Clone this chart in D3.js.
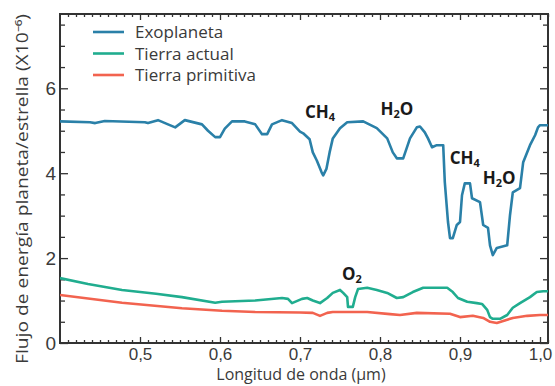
<!DOCTYPE html>
<html>
<head>
<meta charset="utf-8">
<script src="https://cdn.jsdelivr.net/npm/d3@7"></script>
<style>
  body { margin: 0; background: #fff; }
  svg { display: block; font-family: "Open Sans", sans-serif; }
</style>
</head>
<body>
<div id="chart"></div>
<script>
// wavelength (µm) / flux ratio pairs
const exoWave = [0.400, 0.4375, 0.444, 0.456, 0.506, 0.510, 0.5225, 0.535, 0.544, 0.556, 0.5775, 0.585, 0.594, 0.600, 0.606, 0.615, 0.631, 0.644, 0.6525, 0.659, 0.665, 0.6775, 0.690, 0.700,
  0.704, 0.712, 0.716, 0.721, 0.727, 0.729, 0.733, 0.737, 0.741, 0.750, 0.759, 0.779, 0.796, 0.809, 0.816, 0.821, 0.829, 0.8375, 0.846, 0.850, 0.856, 0.860, 0.865, 0.871, 0.879,
  0.881, 0.885, 0.8875, 0.891, 0.896, 0.900, 0.9025, 0.906, 0.9125, 0.915, 0.925, 0.929, 0.935, 0.9375, 0.941, 0.946, 0.959, 0.9625, 0.966, 0.975, 0.979, 0.9875, 0.994, 0.9975, 1.000, 1.010];
const exoFlux = [5.22, 5.20, 5.18, 5.23, 5.20, 5.18, 5.25, 5.15, 5.08, 5.25, 5.15, 5.00, 4.85, 4.85, 5.05, 5.22, 5.22, 5.15, 4.92, 4.92, 5.15, 5.25, 5.18, 4.98,
  4.94, 4.80, 4.49, 4.30, 4.02, 3.95, 4.10, 4.49, 4.82, 5.06, 5.20, 5.22, 5.06, 4.82, 4.49, 4.35, 4.35, 4.82, 5.08, 5.10, 4.96, 4.82, 4.61, 4.66, 4.66,
  3.79, 2.85, 2.47, 2.47, 2.78, 2.85, 3.48, 3.76, 3.76, 3.41, 3.32, 2.78, 2.71, 2.30, 2.07, 2.24, 2.30, 3.01, 3.55, 3.65, 4.26, 4.66, 4.90, 5.08, 5.13, 5.13];

const actualWave = [0.400, 0.435, 0.4775, 0.520, 0.5525, 0.594, 0.6025, 0.644, 0.6775, 0.685, 0.690, 0.7025, 0.709, 0.716, 0.725, 0.734, 0.741, 0.750, 0.754, 0.759, 0.760, 0.766, 0.769, 0.7725,
  0.784, 0.796, 0.809, 0.821, 0.829, 0.841, 0.854, 0.884, 0.891, 0.8975, 0.909, 0.921, 0.9275, 0.934, 0.9375, 0.941, 0.950, 0.959, 0.966, 0.975, 0.9875, 0.996, 1.004, 1.010];
const actualFlux = [1.53, 1.39, 1.25, 1.16, 1.08, 0.95, 0.97, 1.00, 1.06, 1.04, 0.94, 1.04, 1.06, 1.00, 0.94, 1.06, 1.18, 1.25, 1.18, 1.08, 0.85, 0.85, 1.08, 1.27,
  1.30, 1.25, 1.18, 1.06, 1.08, 1.20, 1.30, 1.30, 1.20, 1.06, 0.97, 0.94, 0.92, 0.78, 0.61, 0.57, 0.57, 0.66, 0.83, 0.94, 1.08, 1.20, 1.22, 1.22];

const primWave = [0.400, 0.4775, 0.5525, 0.6025, 0.644, 0.700, 0.716, 0.725, 0.734, 0.741, 0.784, 0.8125, 0.825, 0.846, 0.8875, 0.900, 0.916, 0.929, 0.9375, 0.946, 0.954, 0.966, 0.984, 1.000, 1.010];
const primFlux = [1.13, 0.95, 0.82, 0.76, 0.73, 0.72, 0.71, 0.64, 0.71, 0.73, 0.73, 0.68, 0.66, 0.71, 0.69, 0.61, 0.64, 0.59, 0.50, 0.47, 0.52, 0.59, 0.64, 0.66, 0.66];

const seriesNames = ["Exoplaneta", "Tierra actual", "Tierra primitiva"];
const xTicks = [0.5, 0.6, 0.7, 0.8, 0.9, 1.0];
const yTicks = [0, 2, 4, 6];

// molecule labels: [main, subscript, tail, wavelength, flux]
const molecules = [
  ["CH", "4", "", 0.725, 5.31],
  ["H", "2", "O", 0.821, 5.36],
  ["CH", "4", "", 0.906, 4.22],
  ["H", "2", "O", 0.949, 3.74],
  ["O", "2", "", 0.765, 1.49]
];

const colors = { "Exoplaneta": "#2a80a8", "Tierra actual": "#20ad8f", "Tierra primitiva": "#f2634f" };

const W = 555, H = 386;
const m = { l: 60, r: 7, t: 14, b: 43 };

const svg = d3.select("#chart").append("svg")
  .attr("width", W).attr("height", H)
  .attr("viewBox", [0, 0, W, H]);

const x = d3.scaleLinear().domain([0.4, 1.01]).range([m.l, W - m.r]);
const y = d3.scaleLinear().domain([0, 7.75]).range([H - m.b, m.t]);

const axisColor = "#333";
const fmt = d => d.toFixed(1).replace(".", ",");

// minor ticks
const minorX = d3.range(0.41, 1.01, 0.01).filter(v => Math.abs(v * 10 - Math.round(v * 10)) > 0.001);
const minorY = d3.range(0.5, 7.75, 0.5).filter(v => v % 2 !== 0);

svg.append("g").attr("class", "xAxes")
  .attr("transform", `translate(0,${H - m.b})`)
  .call(d3.axisBottom(x).tickValues(xTicks).tickSize(-6).tickPadding(5).tickFormat(fmt))
  .call(g => g.select(".domain").remove())
  .call(g => g.selectAll("text").attr("font-size", 17).attr("fill", "#3a3a3a"));

svg.append("g")
  .attr("transform", `translate(0,${H - m.b})`)
  .call(d3.axisBottom(x).tickValues(minorX).tickSize(-3).tickFormat(""))
  .call(g => g.select(".domain").remove());

svg.append("g")
  .attr("transform", `translate(0,${m.t})`)
  .call(d3.axisTop(x).tickValues(xTicks).tickSize(-6).tickFormat(""))
  .call(g => g.select(".domain").remove());

svg.append("g")
  .attr("transform", `translate(0,${m.t})`)
  .call(d3.axisTop(x).tickValues(minorX).tickSize(-3).tickFormat(""))
  .call(g => g.select(".domain").remove());

svg.append("g").attr("class", "yAxes")
  .attr("transform", `translate(${m.l},0)`)
  .call(d3.axisLeft(y).tickValues(yTicks).tickSize(-8).tickPadding(4).tickFormat(d3.format("d")))
  .call(g => g.select(".domain").remove())
  .call(g => g.selectAll("text").attr("font-size", 19).attr("fill", "#3a3a3a"));

svg.append("g")
  .attr("transform", `translate(${m.l},0)`)
  .call(d3.axisLeft(y).tickValues(minorY).tickSize(-5).tickFormat(""))
  .call(g => g.select(".domain").remove());

svg.append("g")
  .attr("transform", `translate(${W - m.r},0)`)
  .call(d3.axisRight(y).tickValues(yTicks).tickSize(-8).tickFormat(""))
  .call(g => g.select(".domain").remove());

svg.append("g")
  .attr("transform", `translate(${W - m.r},0)`)
  .call(d3.axisRight(y).tickValues(minorY).tickSize(-5).tickFormat(""))
  .call(g => g.select(".domain").remove());

svg.selectAll(".tick line").attr("stroke", axisColor).attr("stroke-width", 1.3);

// frame
svg.append("rect")
  .attr("x", m.l).attr("y", m.t)
  .attr("width", W - m.r - m.l).attr("height", H - m.b - m.t)
  .attr("fill", "none").attr("stroke", axisColor).attr("stroke-width", 2);

const line = d3.line().x(d => x(d[0])).y(d => y(d[1]));
const data = [
  { key: "Tierra primitiva", values: d3.zip(primWave, primFlux) },
  { key: "Tierra actual", values: d3.zip(actualWave, actualFlux) },
  { key: "Exoplaneta", values: d3.zip(exoWave, exoFlux) }
];

svg.append("defs").append("clipPath").attr("id", "clip")
  .append("rect").attr("x", m.l).attr("y", m.t).attr("width", W - m.r - m.l).attr("height", H - m.b - m.t);

svg.append("g").attr("clip-path", "url(#clip)")
  .selectAll(".line")
  .data(data)
  .enter()
  .append("path")
    .attr("fill", "none")
    .attr("stroke", d => colors[d.key])
    .attr("stroke-width", 2.6)
    .attr("stroke-linejoin", "round")
    .attr("d", d => line(d.values));

// molecule annotations
molecules.forEach(mo => {
  const t = svg.append("text")
    .attr("x", x(mo[3])).attr("y", y(mo[4]))
    .attr("text-anchor", "middle")
    .attr("font-weight", "bold").attr("font-size", 17).attr("fill", "#1a1a1a");
  t.append("tspan").text(mo[0]);
  t.append("tspan").text(mo[1]).attr("font-size", 11).attr("dy", 3);
  if (mo[2]) t.append("tspan").text(mo[2]).attr("dy", -3);
});

// legend
const legend = svg.append("g").attr("transform", "translate(93,32)");
seriesNames.forEach((name, i) => {
  const g = legend.append("g").attr("transform", `translate(0,${i * 21.5})`);
  g.append("line").attr("x1", 0).attr("x2", 31).attr("stroke", colors[name]).attr("stroke-width", 2.6);
  g.append("text").attr("x", 42).attr("y", 6).attr("font-size", 17).attr("fill", "#3a3a3a").text(name);
});

// axis titles
svg.append("text")
  .attr("x", 301).attr("y", 380)
  .attr("text-anchor", "middle").attr("font-size", 16).attr("fill", "#3a3a3a")
  .text("Longitud de onda (µm)");

svg.append("text")
  .attr("transform", "translate(28,189) rotate(-90)")
  .attr("text-anchor", "middle").attr("font-size", 16).attr("fill", "#3a3a3a")
  .attr("textLength", 350).attr("lengthAdjust", "spacingAndGlyphs")
  .text("Flujo de energía planeta/estrella (X10⁻⁶)");
</script>
</body>
</html>
